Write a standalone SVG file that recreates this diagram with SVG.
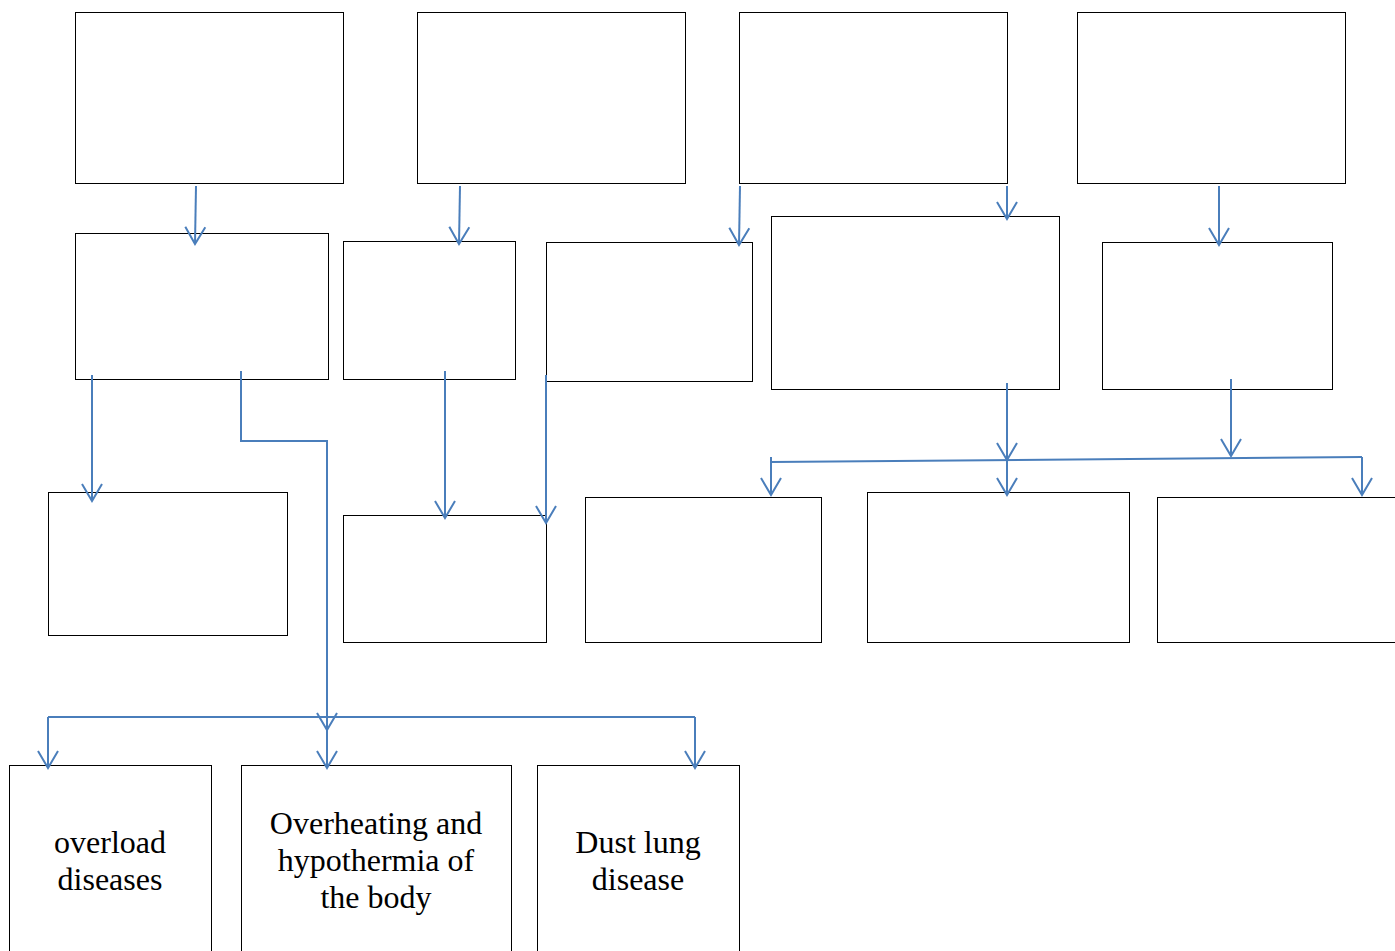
<svg xmlns="http://www.w3.org/2000/svg" width="1395" height="951" viewBox="0 0 1395 951">
<style>
.box{fill:#fff;stroke:#000;stroke-width:1}
.c{fill:none;stroke:#4A7EBB;stroke-width:2}
.a{marker-end:url(#arr)}
.t{font-family:"Liberation Serif","Times New Roman",serif;font-size:32px;fill:#000;text-anchor:middle}
</style>
<defs>
<marker id="arr" markerUnits="userSpaceOnUse" markerWidth="24" markerHeight="24" viewBox="-18 -12 20 24" refX="0" refY="0" orient="auto" overflow="visible">
<path d="M-17,-10 L0,0 L-17,10" fill="none" stroke="#4A7EBB" stroke-width="2"/>
</marker>
</defs>
<rect width="1395" height="951" fill="#fff"/>
<g id="nodes">
<g id="n-a"><rect class="box" x="75.5" y="12.5" width="268" height="171"/></g>
<g id="n-b"><rect class="box" x="417.5" y="12.5" width="268" height="171"/></g>
<g id="n-c"><rect class="box" x="739.5" y="12.5" width="268" height="171"/></g>
<g id="n-d"><rect class="box" x="1077.5" y="12.5" width="268" height="171"/></g>
<g id="n-e"><rect class="box" x="75.5" y="233.5" width="253" height="146"/></g>
<g id="n-f"><rect class="box" x="343.5" y="241.5" width="172" height="138"/></g>
<g id="n-g"><rect class="box" x="546.5" y="242.5" width="206" height="139"/></g>
<g id="n-h"><rect class="box" x="771.5" y="216.5" width="288" height="173"/></g>
<g id="n-i"><rect class="box" x="1102.5" y="242.5" width="230" height="147"/></g>
<g id="n-j"><rect class="box" x="48.5" y="492.5" width="239" height="143"/></g>
<g id="n-k"><rect class="box" x="343.5" y="515.5" width="203" height="127"/></g>
<g id="n-l"><rect class="box" x="585.5" y="497.5" width="236" height="145"/></g>
<g id="n-m"><rect class="box" x="867.5" y="492.5" width="262" height="150"/></g>
<g id="n-n"><rect class="box" x="1157.5" y="497.5" width="250" height="145"/></g>
<g id="n-o"><rect class="box" x="9.5" y="765.5" width="202" height="200"/>
<text class="t" x="110" y="853">overload</text>
<text class="t" x="110" y="890">diseases</text></g>
<g id="n-p"><rect class="box" x="241.5" y="765.5" width="270" height="200"/>
<text class="t" x="376" y="834">Overheating and</text>
<text class="t" x="376" y="871">hypothermia of</text>
<text class="t" x="376" y="908">the body</text></g>
<g id="n-q"><rect class="box" x="537.5" y="765.5" width="202" height="200"/>
<text class="t" x="638" y="853">Dust lung</text>
<text class="t" x="638" y="890">disease</text></g>
</g>
<g id="connectors">
<path class="c a" d="M196,186 L195,244"/>
<path class="c a" d="M460,186 L459,244"/>
<path class="c a" d="M740,186 L739,245"/>
<path class="c a" d="M1007,186 L1007,219"/>
<path class="c a" d="M1219,186 L1219,245"/>
<path class="c a" d="M92,375 L92,501"/>
<path class="c a" d="M241,371 L241,441 L327,441 L327,730"/>
<path class="c" d="M48,717 L695,717"/>
<path class="c a" d="M48,717 L48,768"/>
<path class="c a" d="M327,717 L327,768"/>
<path class="c a" d="M695,717 L695,768"/>
<path class="c a" d="M445,371 L445,518"/>
<path class="c a" d="M546,375 L546,523"/>
<path class="c a" d="M1007,383 L1007,460"/>
<path class="c a" d="M1231,379 L1231,456"/>
<path class="c" d="M771,462 L1362,457"/>
<path class="c a" d="M771,457 L771,495"/>
<path class="c a" d="M1007,460 L1007,495"/>
<path class="c a" d="M1362,457 L1362,495"/>
</g>
</svg>
